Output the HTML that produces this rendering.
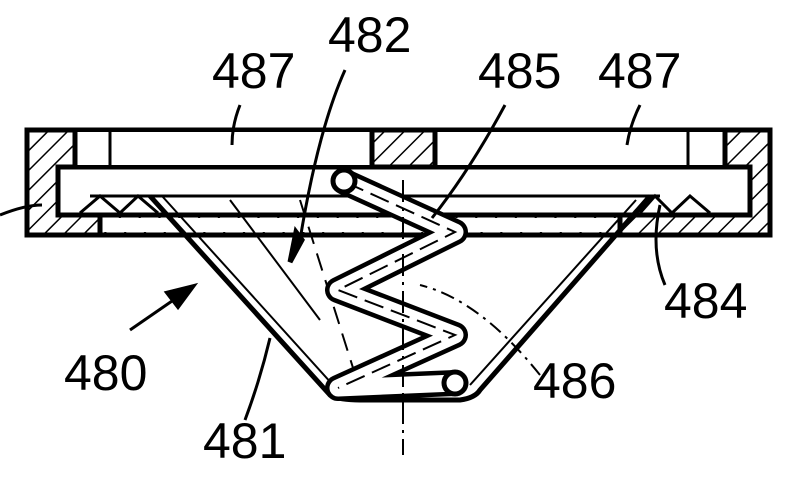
<!DOCTYPE html>
<html><head><style>body{margin:0;background:#fff}svg{display:block}text{font-family:"Liberation Sans",sans-serif;font-size:50px;fill:#000}</style></head><body>
<svg width="800" height="479" viewBox="0 0 800 479" xmlns="http://www.w3.org/2000/svg">
<defs><pattern id="h" width="14" height="14" patternUnits="userSpaceOnUse" patternTransform="rotate(45)"><rect width="14" height="14" fill="#fff"/><line x1="0" y1="0" x2="0" y2="14" stroke="#000" stroke-width="3"/></pattern></defs>
<g stroke="#000" stroke-width="5" fill="none">
<rect x="27" y="130" width="743" height="105" fill="url(#h)"/>
<rect x="58" y="167" width="692" height="48" fill="#fff"/>
<rect x="75" y="132" width="297" height="33" fill="#fff" stroke="none"/>
<rect x="435" y="132" width="290" height="33" fill="#fff" stroke="none"/>
<line x1="75" y1="130" x2="75" y2="167"/><line x1="110" y1="132" x2="110" y2="165" stroke-width="3"/>
<line x1="372" y1="130" x2="372" y2="167"/><line x1="435" y1="130" x2="435" y2="167"/>
<line x1="688" y1="132" x2="688" y2="165" stroke-width="3"/><line x1="725" y1="130" x2="725" y2="167"/>
<rect x="100" y="218" width="520" height="14" fill="#fff" stroke="none"/>
<line x1="100" y1="215" x2="100" y2="235"/><line x1="620" y1="215" x2="620" y2="235"/>
<path d="M80 213 L100 196 L120 213 L138 196 L158 213" stroke-width="3"/>
<line x1="90" y1="196" x2="660" y2="196" stroke-width="3"/>
<path d="M640 213 L655 196 L672 213 L690 196 L710 213" stroke-width="3"/>
<path d="M150 196 L330 395 Q340 400 360 400 L460 400 Q475 398 480 390 L650 196" stroke-width="5"/>
<path d="M162 196 L333 385" stroke-width="2"/><path d="M636 200 L470 385" stroke-width="2"/>
<line x1="230" y1="200" x2="320" y2="320" stroke-width="2"/>
<line x1="300" y1="200" x2="360" y2="390" stroke-width="2" stroke-dasharray="18 10"/>
<path d="M345 395 Q400 370 455 385" stroke-width="3"/>
<path d="M345 182 L455 232 L338 290 L455 335 L338 388 L455 383" stroke="#000" stroke-width="26" stroke-linejoin="round" stroke-linecap="round"/>
<path d="M345 182 L455 232 L338 290 L455 335 L338 388 L455 383" stroke="#fff" stroke-width="17" stroke-linejoin="round" stroke-linecap="round"/>
<path d="M345 182 L455 232 L338 290 L455 335 L338 388" stroke="#000" stroke-width="2" stroke-dasharray="20 8"/>
<circle cx="344" cy="181" r="11" fill="#fff"/><circle cx="455" cy="383" r="11" fill="#fff"/>
<line x1="403" y1="180" x2="403" y2="455" stroke-width="2" stroke-dasharray="22 6 3 6"/>
<path d="M240 105 Q232 125 232 145" stroke-width="3"/>
<path d="M345 70 Q318 130 300 240" stroke-width="3"/>
<polygon points="290,262 296,232 302,240" fill="#000"/>
<path d="M505 105 Q470 170 432 218" stroke-width="3"/>
<path d="M640 105 Q630 125 627 145" stroke-width="3"/>
<path d="M665 285 Q650 250 660 205" stroke-width="3"/>
<path d="M130 330 L188 290" stroke-width="3"/><polygon points="192,287 168,293 178,306" fill="#000"/>
<path d="M540 375 Q480 300 420 285" stroke-width="2" stroke-dasharray="14 6 3 6"/>
<path d="M245 420 Q260 380 270 338" stroke-width="3"/>
<path d="M0 215 Q25 205 42 205" stroke-width="3"/>
</g>
<text x="212" y="88">487</text><text x="328" y="52">482</text><text x="478" y="88">485</text><text x="598" y="88">487</text>
<text x="664" y="318">484</text><text x="64" y="390">480</text><text x="533" y="398">486</text><text x="203" y="458">481</text>
</svg></body></html>
